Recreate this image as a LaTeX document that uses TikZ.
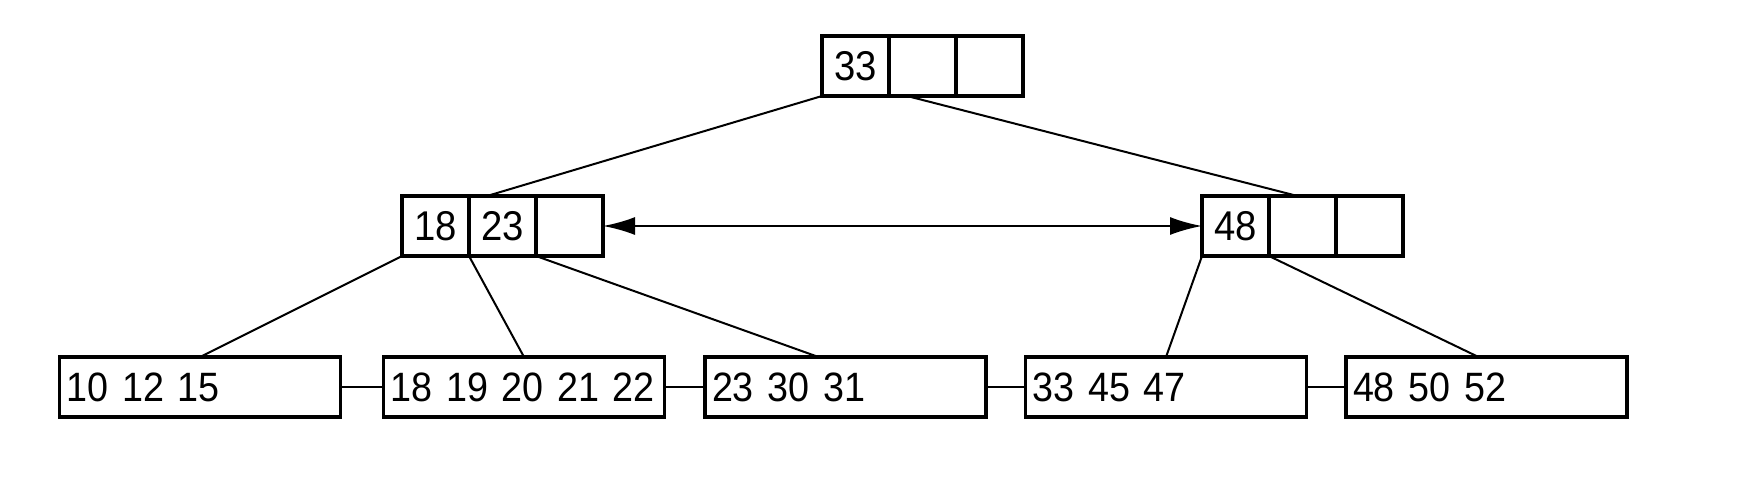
\documentclass[tikz,border=0pt]{standalone}
\usepackage{fontspec}
\setmainfont{Liberation Sans}[FakeStretch=0.92]
\usetikzlibrary{arrows.meta, positioning}

\begin{document}
\begin{tikzpicture}[x=0.5pt, y=-0.5pt,
    cell/.style={draw, line width=1.6pt, outer sep=0pt, inner sep=0pt,
                 minimum width=33.5pt, minimum height=30pt,
                 font=\fontsize{20.8pt}{25pt}\selectfont},
    leaf/.style={draw, line width=1.6pt, outer sep=0pt, inner xsep=3.5pt, inner ysep=0pt,
                 text width=133.5pt, align=left, minimum height=30pt,
                 execute at begin node=\hbox\bgroup, execute at end node=\egroup,
                 font=\fontsize{20.5pt}{25pt}\selectfont},
    edge/.style={line width=1pt},
    sibling/.style={{Latex[length=16pt, width=9pt]}-{Latex[length=16pt, width=9pt]}, line width=1pt},
]
    \useasboundingbox (0,0) rectangle (1748,477);

    % root
    \node[cell] (r1) at (855.5,66) {33};
    \node[cell, right=0pt of r1] (r2) {};
    \node[cell, right=0pt of r2] (r3) {};

    % inner nodes
    \node[cell] (ml1) at (435.5,226) {18};
    \node[cell, right=0pt of ml1] (ml2) {23};
    \node[cell, right=0pt of ml2] (ml3) {};

    \node[cell] (mr1) at (1235.5,226) {48};
    \node[cell, right=0pt of mr1] (mr2) {};
    \node[cell, right=0pt of mr2] (mr3) {};

    % leaves
    \node[leaf] (l1) at (200,387) {10 12 15};
    \node[leaf] (l2) at (524,387) {18 19 20 21 22};
    \node[leaf] (l3) at (845.5,387) {23 30 31};
    \node[leaf] (l4) at (1166,387) {33 45 47};
    \node[leaf] (l5) at (1486.5,387) {48 50 52};

    \draw[edge] (r1.south west) -- ([xshift=9pt]ml2.north west);
    \draw[edge] ([xshift=9pt]r2.south west) -- ([xshift=-2.5pt]mr2.north);

    \draw[edge] (ml1.south west) -- (l1.north);
    \draw[edge] (ml1.south east) -- (l2.north);
    \draw[edge] (ml2.south east) -- ([xshift=-13.5pt]l3.north);
    \draw[edge] (mr1.south west) -- (l4.north);
    \draw[edge] (mr1.south east) -- ([xshift=-4pt]l5.north);

    \draw[sibling] (ml3) -- (mr1);

    \draw[edge] (l1) -- (l2);
    \draw[edge] (l2) -- (l3);
    \draw[edge] (l3) -- (l4);
    \draw[edge] (l4) -- (l5);
\end{tikzpicture}
\end{document}
